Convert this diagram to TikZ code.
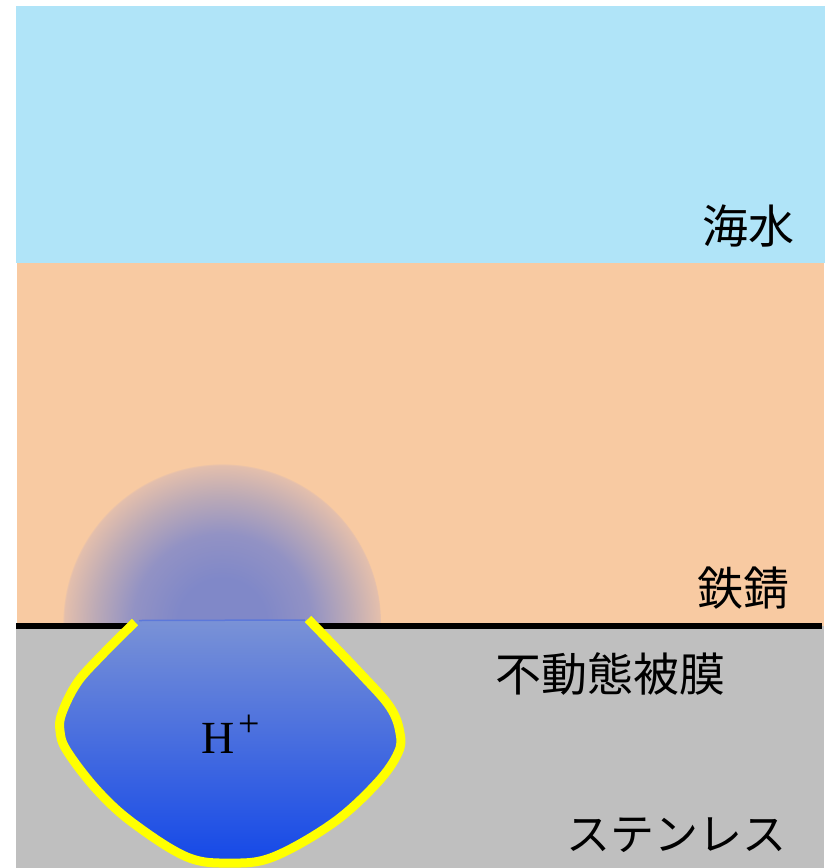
\documentclass[tikz,border=0pt]{standalone}
\usepackage{fontspec}
\newfontfamily\jpfont{Noto Sans CJK JP}
\newfontfamily\ionfont{Liberation Serif}
\definecolor{seawater}{RGB}{176,228,248}
\definecolor{rust}{RGB}{248,202,162}
\definecolor{steel}{RGB}{191,191,191}
\definecolor{filmline}{RGB}{0,0,0}
\definecolor{pitrim}{RGB}{255,255,0}
\definecolor{pittop}{RGB}{122,146,214}
\definecolor{pitbot}{RGB}{20,72,232}
\definecolor{pitedge}{RGB}{92,120,218}
\definecolor{glowin}{RGB}{128,136,200}
\definecolor{glowmid}{RGB}{146,146,196}
\definecolor{glowout}{RGB}{188,170,182}
\definecolor{glowrim}{RGB}{228,191,172}
\pgfdeclareradialshading{acidglow}{\pgfpoint{0bp}{0bp}}{%
  color(0bp)=(glowin); color(7bp)=(glowin); color(14bp)=(glowmid);
  color(20bp)=(glowout); color(24.9bp)=(glowrim); color(25bp)=(rust);
  color(50bp)=(rust)}
\tikzset{
  layerlabel/.style={inner sep=0pt, font=\jpfont\fontsize{46}{46}\selectfont},
  rim/.style={draw=pitrim, line width=9pt, line cap=butt, line join=round},
}
\begin{document}
\begin{tikzpicture}[x=1pt, y=-1pt]
  \useasboundingbox (0,0) rectangle (826,868);
  % layers
  \fill[seawater] (16,6) rectangle (825,263);
  \fill[rust] (17,263) rectangle (824,626);
  \fill[steel] (16,626) rectangle (824,868);
  % acid glow spreading into the rust
  \begin{scope}
    \clip (17,440) rectangle (824,623);
    \shade[shading=acidglow] (222,623) circle (159);
  \end{scope}
  % passive film
  \draw[filmline, line width=6pt] (16,626) -- (822,626);
  % pit interior
  \shade[top color=pittop, bottom color=pitbot]
    plot[smooth, tension=0.6] coordinates {
      (135,620) (100,657) (77,683) (62,713) (60,731) (67,751)
      (97,790) (133,823) (187,857) (230,863) (273,857) (333,823)
      (377,783) (398,753) (400,733) (390,707) (360,673) (308,620)} -- cycle;
  \draw[pitedge, line width=1.5pt] (139,620.5) -- (305,620);
  % pit wall
  \draw[rim] plot[smooth, tension=0.6] coordinates {
      (135,622) (100,657) (77,683) (62,713) (60,731) (67,751)
      (97,790) (133,823) (187,857) (230,863) (273,857) (333,823)
      (377,783) (398,753) (400,733) (390,707) (360,673) (308,619)};
  % labels
  \node[layerlabel] (sea) at (748,226) {海水};
  \node[layerlabel] (rustlbl) at (743,588) {鉄錆};
  \node[layerlabel] (film) at (610,674) {不動態被膜};
  \node[layerlabel, font=\jpfont\fontsize{44}{44}\selectfont] (steellbl) at (676,835) {ステンレス};
  \node[inner sep=0pt, anchor=base west, font=\ionfont\fontsize{46}{46}\selectfont]
    (ion) at (201,753) {H\hspace{4pt}\raisebox{17pt}{\fontsize{38}{38}\selectfont +}};
\end{tikzpicture}
\end{document}
